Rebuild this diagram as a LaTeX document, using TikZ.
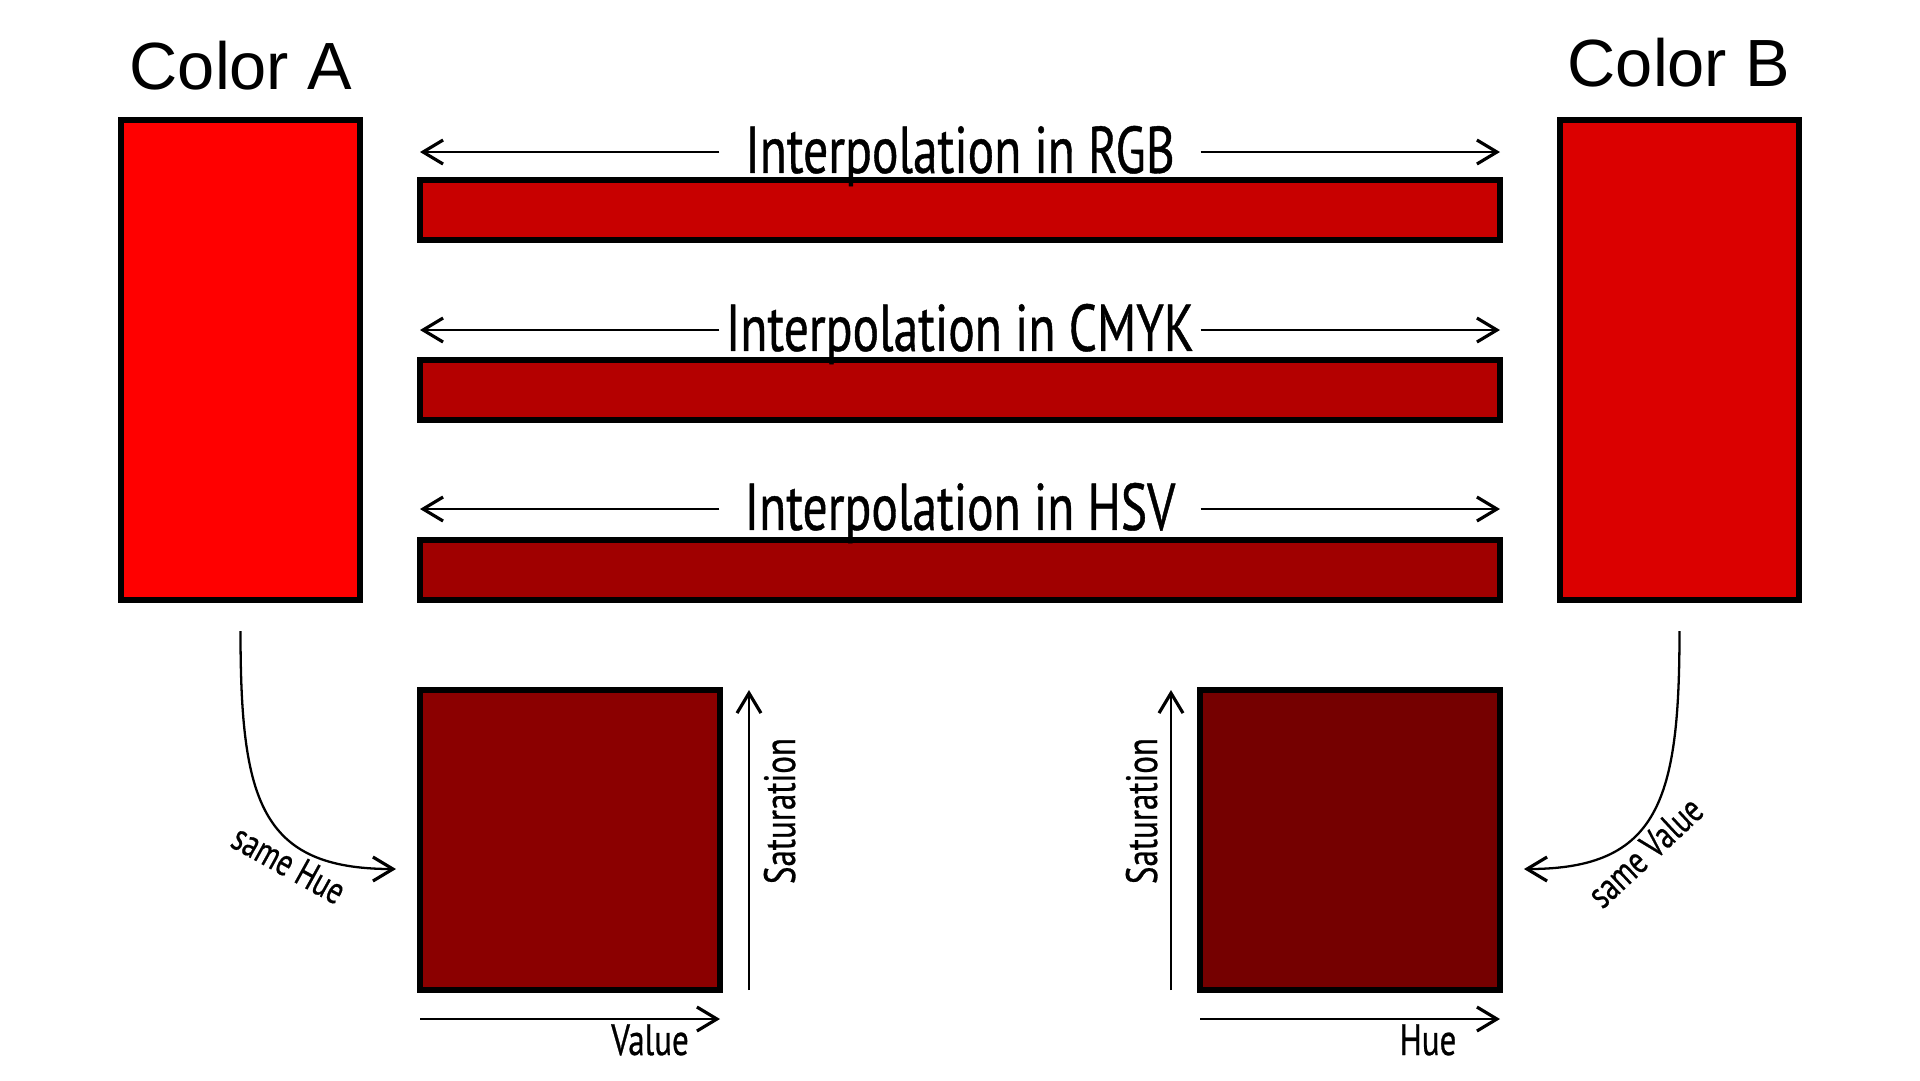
\documentclass[tikz,border=0pt]{standalone}
\usepackage{fontspec}
\setmainfont{Liberation Sans}
\newfontfamily\hand[FakeStretch=0.75,FakeBold=0.6]{PT Sans}
\usetikzlibrary{arrows.meta}
\definecolor{colA}{RGB}{255,0,0}
\definecolor{colB}{RGB}{219,0,0}
\definecolor{cRGB}{RGB}{200,0,0}
\definecolor{cCMYK}{RGB}{180,0,0}
\definecolor{cHSV}{RGB}{160,0,0}
\definecolor{cSqL}{RGB}{139,0,0}
\definecolor{cSqR}{RGB}{117,0,0}
\tikzset{
  cbox/.style={draw=black, line width=1.7pt, rectangle, inner sep=0pt, outer sep=0pt, anchor=north west},
  title/.style={font=\fontsize{19}{22}\selectfont, inner sep=0pt, anchor=base},
  interp/.style={font=\hand\fontsize{18.8}{22}\selectfont, inner sep=0pt, text height=14.2pt, text depth=2.3pt, minimum width=48mm, anchor=center},
  axlbl/.style={font=\hand\fontsize{12.5}{15}\selectfont, inner sep=0pt, anchor=base},
  samelbl/.style={font=\hand\fontsize{11}{13}\selectfont, inner sep=0pt, anchor=center},
  arr/.style={line width=0.65pt, -{Straight Barb[length=2mm,width=2.4mm,line width=0.9pt]}}
}
\begin{document}
\begin{tikzpicture}[x=0.1mm, y=-0.1mm]
\fill[white] (0,0) rectangle (1920,1080);
\useasboundingbox (0,0) rectangle (1920,1080);

% titles
\node[title] (tA) at (241,89) {Color A};
\node[title] (tB) at (1679,86) {Color B};

% colour boxes
\node[cbox, fill=colA, minimum width=23.9mm, minimum height=48mm] (A) at (121,120) {};
\node[cbox, fill=colB, minimum width=23.9mm, minimum height=48mm] (B) at (1560,120) {};

% interpolation bars
\node[cbox, fill=cRGB, minimum width=108mm, minimum height=6mm] (bRGB) at (420,180) {};
\node[cbox, fill=cCMYK, minimum width=108mm, minimum height=6mm] (bCMYK) at (420,360) {};
\node[cbox, fill=cHSV, minimum width=108mm, minimum height=6mm] (bHSV) at (420,540) {};

% bar labels with arrows
\node[interp] (tRGB) at (960,152) {Interpolation in RGB};
\node[interp] (tCMYK) at (960,330) {Interpolation in CMYK};
\node[interp] (tHSV) at (960,509) {Interpolation in HSV};
\foreach \n/\b in {tRGB/bRGB, tCMYK/bCMYK, tHSV/bHSV}{
  \draw[arr] (\n.west) -- (\n.west -| \b.west);
  \draw[arr] (\n.east) -- (\n.east -| \b.east);
}

% squares
\node[cbox, fill=cSqL, minimum width=30mm, minimum height=30mm] (sqL) at (420,690) {};
\node[cbox, fill=cSqR, minimum width=30mm, minimum height=30mm] (sqR) at (1200,690) {};

% axes
\draw[arr] ([yshift=-2.9mm]sqL.south west) -- ([yshift=-2.9mm]sqL.south east);
\draw[arr] ([xshift=2.9mm]sqL.south east) -- ([xshift=2.9mm]sqL.north east);
\draw[arr] ([yshift=-2.9mm]sqR.south west) -- ([yshift=-2.9mm]sqR.south east);
\draw[arr] ([xshift=-2.9mm]sqR.south west) -- ([xshift=-2.9mm]sqR.north west);

\node[axlbl] (lVal) at (650,1055) {Value};
\node[axlbl] (lHue) at (1428,1055) {Hue};
\node[axlbl, rotate=90] (lSatL) at (795,811) {Saturation};
\node[axlbl, rotate=90] (lSatR) at (1157,811) {Saturation};

% curved connectors
\coordinate (cAs) at (240.5,631);
\coordinate (cAe) at (396,869);
\coordinate (cBs) at (1679.5,631);
\coordinate (cBe) at (1524,869);
\draw[arr] (cAs) .. controls (240.5,800) and (260,869) .. (cAe);
\draw[arr] (cBs) .. controls (1679.5,800) and (1659,869) .. (cBe);

\node[samelbl, rotate=-29] (sH) at (289,864) {same Hue};
\node[samelbl, rotate=43] (sV) at (1645,852) {same Value};
\end{tikzpicture}
\end{document}
